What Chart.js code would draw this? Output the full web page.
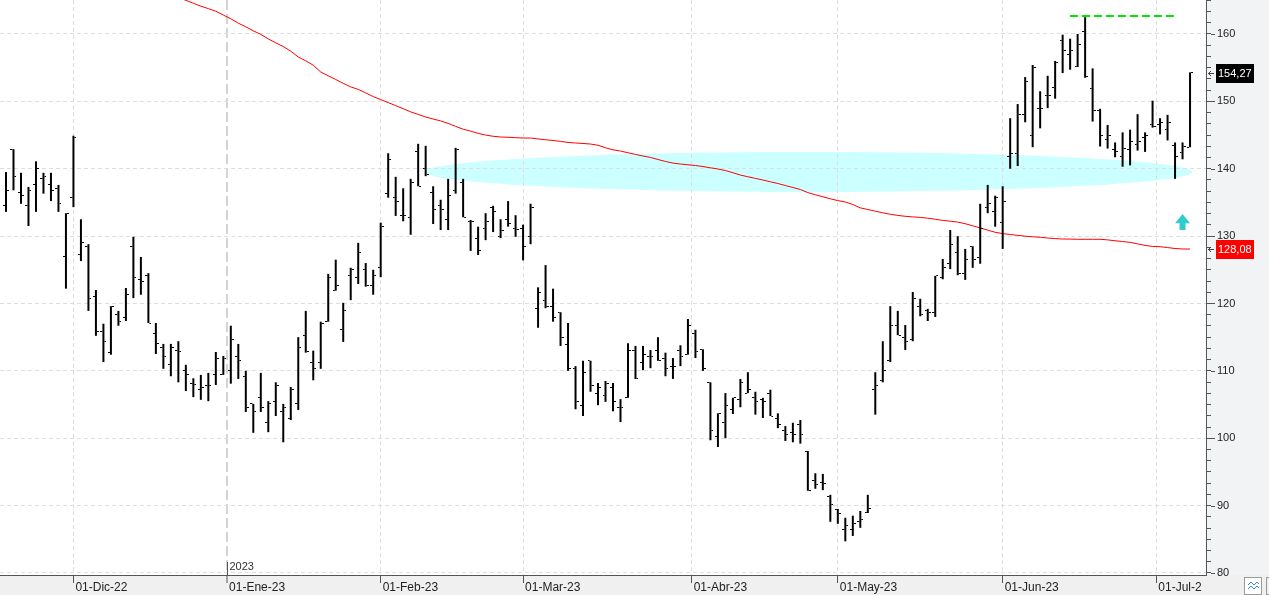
<!DOCTYPE html>
<html>
<head>
<meta charset="utf-8">
<script src="https://cdn.jsdelivr.net/npm/chart.js@4/dist/chart.umd.min.js"></script>
<style>
  html, body { margin: 0; padding: 0; background: #fff; }
</style>
</head>
<body>
<canvas id="chart" width="1269" height="595"></canvas>
<script>
// daily bars, one entry per session (17-Nov-22 .. 10-Jul-23)
const opens = [
  134.6, 142.9, 136.5, 134.6, 137.6, 138.5, 137.6, 137.0, 127.0, 135.7,
  127.3, 128.5, 121.1, 115.8, 112.7, 118.3, 117.9, 128.4, 123.6, 124.2,
  115.5, 113.4, 110.9, 113.0, 110.0, 108.1, 107.3, 107.9, 109.5, 109.5,
  110.1, 112.2, 109.1, 105.1, 106.1, 102.3, 105.4, 104.0, 103.0, 105.2,
  115.3, 111.2, 111.2, 117.4, 122.0, 116.1, 124.1, 123.9, 125.1, 122.7,
  125.3, 136.3, 135.7, 133.1, 132.7, 142.6, 140.1, 136.5, 134.6, 132.4,
  136.8, 138.0, 132.1, 129.7, 131.1, 134.3, 129.9, 132.5, 131.1, 131.1,
  130.0, 119.2, 120.4, 119.6, 118.6, 113.9, 110.3, 104.8, 111.5, 106.7,
  106.3, 107.5, 104.6, 106.0, 113.0, 111.2, 112.2, 113.0, 111.9, 110.6,
  113.0, 112.5, 115.5, 113.1, 108.3, 100.3, 102.4, 104.3, 105.8, 106.7,
  106.1, 105.7, 106.7, 102.9, 101.2, 100.8, 102.0, 98.1, 93.8, 93.4,
  91.4, 89.4, 86.5, 86.4, 87.6, 89.0, 107.3, 108.5, 111.5, 116.8,
  114.9, 114.6, 119.5, 119.0, 118.7, 123.9, 125.9, 127.6, 124.4, 128.4,
  126.8, 134.2, 133.7, 132.0, 141.8, 142.3, 148.0, 144.9, 148.9, 150.8,
  152.0, 159.0, 157.0, 155.2, 160.3, 151.9, 148.7, 144.3, 142.9, 141.8,
  142.9, 143.6, 144.7, 146.5, 146.6, 145.8, 143.5, 142.4, 143.2
];
const highs = [
  139.5, 142.9, 139.4, 137.3, 141.1, 139.4, 139.4, 137.6, 133.4, 144.9,
  132.5, 128.8, 122.0, 117.0, 119.6, 118.9, 122.3, 129.9, 126.9, 124.5,
  117.1, 114.0, 114.0, 114.4, 110.9, 108.9, 109.4, 109.7, 112.8, 112.2,
  116.7, 114.0, 110.0, 105.1, 109.7, 105.5, 108.3, 105.1, 107.6, 115.0,
  118.9, 113.0, 117.3, 124.4, 126.5, 120.1, 125.3, 129.0, 126.0, 125.0,
  132.0, 142.3, 138.8, 137.1, 138.5, 143.7, 143.4, 137.4, 135.4, 138.5,
  143.1, 138.5, 132.4, 131.4, 133.4, 134.5, 132.5, 135.2, 133.1, 131.7,
  134.8, 122.4, 125.7, 122.2, 118.7, 117.1, 110.7, 111.5, 111.5, 108.2,
  108.5, 108.2, 105.8, 114.1, 113.7, 113.7, 113.1, 115.0, 112.7, 111.9,
  113.8, 117.7, 116.1, 113.2, 108.3, 103.7, 106.7, 106.0, 108.8, 109.8,
  106.9, 106.0, 107.2, 103.7, 101.8, 102.3, 102.7, 98.1, 94.8, 94.7,
  91.6, 89.5, 88.2, 88.5, 89.2, 91.6, 109.8, 114.4, 119.6, 118.9,
  116.8, 121.7, 120.7, 119.2, 124.1, 126.6, 130.9, 130.0, 128.1, 128.5,
  134.8, 137.6, 136.0, 137.4, 147.5, 149.6, 153.6, 155.4, 151.5, 153.8,
  156.0, 159.9, 159.3, 160.0, 162.5, 154.9, 148.9, 146.5, 143.9, 145.4,
  145.8, 148.1, 145.4, 150.1, 147.5, 148.0, 143.9, 143.9, 154.3
];
const lows = [
  133.6, 136.8, 134.8, 131.5, 133.6, 136.3, 135.2, 133.6, 122.2, 134.3,
  126.3, 118.9, 115.2, 111.3, 112.4, 116.7, 117.4, 120.8, 121.3, 117.1,
  112.5, 110.3, 109.2, 108.3, 107.0, 106.1, 105.7, 105.5, 107.9, 109.4,
  108.1, 108.8, 103.9, 100.8, 103.9, 100.9, 103.3, 99.4, 102.7, 104.2,
  112.7, 108.6, 110.3, 117.3, 121.9, 114.3, 120.5, 122.9, 122.5, 121.3,
  123.9, 135.7, 133.0, 132.2, 130.2, 137.4, 138.9, 131.8, 130.9, 130.9,
  136.3, 132.8, 127.8, 127.2, 129.4, 130.6, 129.7, 131.4, 129.9, 126.4,
  128.8, 116.4, 119.3, 117.3, 113.7, 110.0, 104.3, 103.3, 106.9, 104.9,
  105.4, 104.0, 102.4, 106.0, 108.8, 110.1, 110.4, 111.5, 109.2, 108.8,
  110.7, 112.4, 111.9, 110.0, 99.7, 98.7, 100.0, 103.6, 104.6, 106.7,
  103.5, 103.0, 103.3, 101.5, 99.6, 99.4, 99.2, 92.2, 92.5, 92.3,
  87.6, 87.3, 84.7, 85.5, 86.7, 88.9, 103.5, 108.3, 111.3, 115.3,
  113.1, 114.4, 118.1, 117.4, 118.0, 123.6, 125.1, 124.2, 123.5, 125.3,
  125.9, 133.4, 131.4, 128.1, 140.0, 140.4, 146.9, 143.2, 146.0, 149.0,
  150.4, 154.2, 154.7, 155.1, 153.5, 147.0, 143.3, 143.0, 141.7, 140.3,
  140.5, 142.7, 142.5, 146.1, 145.1, 144.2, 138.5, 141.4, 143.2
];
const closes = [
  136.7, 138.8, 136.0, 136.7, 140.1, 138.8, 136.7, 134.8, 133.4, 144.6,
  129.0, 120.8, 115.9, 114.3, 119.5, 117.3, 121.3, 123.8, 123.2, 117.1,
  114.1, 112.2, 113.5, 112.8, 109.4, 108.0, 107.6, 107.9, 111.9, 111.8,
  114.6, 111.5, 104.5, 104.0, 104.6, 105.2, 107.9, 104.6, 107.3, 113.5,
  112.8, 110.4, 117.1, 123.8, 122.6, 119.0, 125.1, 127.5, 122.6, 124.2,
  131.5, 141.3, 135.1, 133.0, 138.0, 137.4, 139.1, 133.9, 133.9, 136.1,
  142.8, 132.8, 132.2, 127.9, 132.2, 133.6, 130.9, 131.8, 131.0, 128.4,
  134.2, 121.7, 119.6, 117.9, 114.9, 110.3, 105.4, 109.8, 107.9, 107.6,
  108.1, 105.5, 104.5, 113.0, 108.8, 112.5, 112.1, 111.6, 110.3, 110.7,
  112.2, 116.8, 112.8, 110.3, 101.2, 103.7, 104.9, 106.0, 108.2, 107.3,
  105.4, 105.5, 103.3, 102.0, 100.5, 100.6, 100.6, 92.2, 93.1, 93.3,
  90.1, 88.8, 87.0, 87.4, 87.9, 89.5, 107.9, 110.0, 116.8, 115.3,
  114.3, 120.8, 118.3, 118.7, 124.1, 125.4, 128.8, 124.4, 126.6, 126.6,
  131.1, 134.8, 135.8, 135.1, 142.3, 148.1, 152.9, 155.0, 149.0, 150.9,
  155.8, 157.6, 157.6, 158.5, 153.7, 148.7, 144.9, 144.9, 142.5, 143.0,
  144.1, 144.0, 145.0, 146.2, 146.8, 146.9, 141.8, 143.3, 154.27
];

// moving average, from session 22 on (earlier values are off the top)
const maStart = 22;
const ma = [
  166.0, 165.4,
  165.0, 164.57, 164.13, 163.77, 163.38, 162.81, 162.26, 161.60, 161.08, 160.47,
  159.94, 159.27, 158.68, 158.14, 157.45, 156.59, 156.02, 155.37, 154.36, 153.80,
  153.25, 152.68, 152.15, 151.78, 151.26, 150.71, 150.26, 149.82, 149.37, 148.91,
  148.44, 148.07, 147.68, 147.38, 147.10, 146.73, 146.29, 145.87, 145.58, 145.25,
  145.00, 144.82, 144.71, 144.67, 144.61, 144.56, 144.56, 144.42, 144.31, 144.19,
  144.06, 143.90, 143.82, 143.75, 143.67, 143.48, 143.11, 142.81, 142.63, 142.37,
  142.13, 141.89, 141.68, 141.37, 141.08, 140.84, 140.70, 140.59, 140.48, 140.33,
  140.14, 139.96, 139.73, 139.41, 139.06, 138.81, 138.57, 138.33, 138.06, 137.81,
  137.51, 137.22, 136.92, 136.46, 136.13, 135.84, 135.54, 135.27, 135.07, 134.69,
  134.19, 133.95, 133.70, 133.46, 133.24, 133.07, 132.94, 132.85, 132.78, 132.66,
  132.50, 132.33, 132.22, 132.08, 131.84, 131.53, 131.22, 130.88, 130.57, 130.37,
  130.24, 130.11, 129.99, 129.90, 129.83, 129.72, 129.63, 129.57, 129.56, 129.53,
  129.53, 129.53, 129.53, 129.44, 129.31, 129.20, 129.07, 128.85, 128.62, 128.47,
  128.43, 128.30, 128.16, 128.09, 128.08
];

// month ticks (session index; .5 = month starts on a weekend)
const monthPos = [9, 29.5, 50, 69, 91.5, 111, 133, 153.5];
const monthLabels = ['01-Dic-22', '01-Ene-23', '01-Feb-23', '01-Mar-23', '01-Abr-23', '01-May-23', '01-Jun-23', '01-Jul-2'];
const yearTick = 1, yearLabel = '2023';

const lastPrice = 154.27, lastMa = 128.08;
const topLine = { from: 141.97, to: 156.0, value: 162.67 };
const zone = { from: 55.9, to: 158.3, low: 136.55, high: 142.5 };
const signal = { at: 157, top: 133.3, bottom: 130.9 };

const FONT = "'Liberation Sans', Arial, sans-serif";
Chart.defaults.font.family = FONT;

function isMajor(v) {
  return Math.abs(v / 10 - Math.round(v / 10)) < 1e-6;
}

// open tick on the left, close tick on the right
function tickImage(side) {
  const c = document.createElement('canvas');
  c.width = 6; c.height = 1;
  const g = c.getContext('2d');
  g.fillStyle = '#000';
  g.fillRect(side == 'left' ? 0 : 4, 0, 2, 1);
  return c;
}

function priceTag(ctx, yPix, left, text, bg) {
  const py = Math.round(yPix);
  ctx.fillStyle = bg;
  ctx.fillRect(left + 10, py - 9, 38, 19);
  ctx.fillStyle = '#fff';
  ctx.font = '11px ' + FONT;
  ctx.textAlign = 'left';
  ctx.textBaseline = 'middle';
  ctx.fillText(text, left + 12, py + 1);
  ctx.strokeStyle = '#444';
  ctx.lineWidth = 1;
  ctx.beginPath();
  ctx.moveTo(left + 2, py + 0.5); ctx.lineTo(left + 8, py + 0.5);
  ctx.moveTo(left + 5, py - 2); ctx.lineTo(left + 2.5, py + 0.5); ctx.lineTo(left + 5, py + 3);
  ctx.stroke();
}

const extras = {
  id: 'extras',
  beforeDraw(chart) {
    const { ctx, chartArea: a, scales: { x, y } } = chart;
    ctx.save();
    ctx.fillStyle = '#fff';
    ctx.fillRect(0, 0, chart.width, chart.height);
    ctx.fillStyle = '#f2f3f5';
    ctx.fillRect(a.right, 0, chart.width - a.right, a.bottom);
    ctx.fillStyle = '#f0f0f0';
    ctx.fillRect(0, a.bottom, chart.width, chart.height - a.bottom);

    // support zone
    const x1 = x.getPixelForValue(zone.from), x2 = x.getPixelForValue(zone.to);
    const y1 = y.getPixelForValue(zone.high), y2 = y.getPixelForValue(zone.low);
    ctx.fillStyle = '#ccffff';
    ctx.beginPath();
    ctx.ellipse((x1 + x2) / 2, (y1 + y2) / 2, (x2 - x1) / 2, (y2 - y1) / 2, 0, 0, Math.PI * 2);
    ctx.fill();
    ctx.restore();
  },
  afterDraw(chart) {
    const { ctx, chartArea: a, scales: { x, y } } = chart;
    ctx.save();

    // longer marks on the labelled prices
    ctx.strokeStyle = '#555';
    ctx.lineWidth = 1;
    ctx.beginPath();
    for (const t of y.ticks) {
      if (!isMajor(t.value)) continue;
      const ty = Math.round(y.getPixelForValue(t.value)) + 0.5;
      ctx.moveTo(a.right + 5, ty);
      ctx.lineTo(a.right + 9, ty);
    }
    ctx.stroke();

    // resistance
    const gy = Math.round(y.getPixelForValue(topLine.value));
    ctx.strokeStyle = '#00e600';
    ctx.lineWidth = 2;
    ctx.setLineDash([8, 4]);
    ctx.beginPath();
    ctx.moveTo(x.getPixelForValue(topLine.from), gy);
    ctx.lineTo(x.getPixelForValue(topLine.to), gy);
    ctx.stroke();
    ctx.setLineDash([]);

    // buy arrow
    const cx = x.getPixelForValue(signal.at);
    const ty = y.getPixelForValue(signal.top), by = y.getPixelForValue(signal.bottom);
    const hb = ty + (by - ty) * 0.58;
    ctx.fillStyle = '#33cccc';
    ctx.beginPath();
    ctx.moveTo(cx, ty);
    ctx.lineTo(cx + 7.5, hb);
    ctx.lineTo(cx + 3, hb);
    ctx.lineTo(cx + 3, by);
    ctx.lineTo(cx - 3, by);
    ctx.lineTo(cx - 3, hb);
    ctx.lineTo(cx - 7.5, hb);
    ctx.closePath();
    ctx.fill();

    // year marker
    const jx = Math.round(x.getPixelForValue(monthPos[yearTick])) + 0.5;
    ctx.strokeStyle = '#555';
    ctx.lineWidth = 1;
    ctx.beginPath();
    ctx.moveTo(jx, a.bottom - 13);
    ctx.lineTo(jx, a.bottom);
    ctx.stroke();
    ctx.fillStyle = '#333';
    ctx.font = '11px ' + FONT;
    ctx.textAlign = 'left';
    ctx.textBaseline = 'middle';
    ctx.fillText(yearLabel, jx + 2, a.bottom - 8);

    // last values
    priceTag(ctx, y.getPixelForValue(lastPrice), a.right, lastPrice.toFixed(2).replace('.', ','), '#000');
    priceTag(ctx, y.getPixelForValue(lastMa), a.right, lastMa.toFixed(2).replace('.', ','), '#ff0000');

    // corner buttons
    ctx.fillStyle = '#fff';
    ctx.strokeStyle = '#9a9a9a';
    ctx.fillRect(1244.5, 577.5, 17, 17);
    ctx.strokeRect(1244.5, 577.5, 17, 17);
    ctx.strokeRect(1266.5, 577.5, 10, 17);
    ctx.strokeStyle = '#3b8ad9';
    ctx.beginPath();
    ctx.moveTo(1248, 585); ctx.lineTo(1251, 582); ctx.lineTo(1254, 585); ctx.lineTo(1257, 582); ctx.lineTo(1259, 584);
    ctx.moveTo(1248, 589); ctx.lineTo(1251, 586); ctx.lineTo(1254, 589); ctx.lineTo(1257, 586); ctx.lineTo(1259, 588);
    ctx.stroke();
    ctx.restore();
  }
};

const idx = highs.map((_, i) => i);

new Chart(document.getElementById('chart'), {
  type: 'bar',
  data: {
    datasets: [
      {
        type: 'line',
        data: ma.map((v, k) => ({ x: maStart + k, y: v })),
        borderColor: '#ff0000',
        borderWidth: 1,
        pointRadius: 0,
        tension: 0,
        order: 3
      },
      {
        type: 'bar',
        data: idx.map(i => ({ x: i, y: [lows[i], highs[i]] })),
        backgroundColor: '#000',
        barThickness: 2,
        inflateAmount: 0,
        order: 2
      },
      {
        type: 'scatter',
        data: idx.map(i => ({ x: i, y: opens[i] })),
        pointStyle: tickImage('left'),
        pointRadius: 3,
        order: 1
      },
      {
        type: 'scatter',
        data: idx.map(i => ({ x: i, y: closes[i] })),
        pointStyle: tickImage('right'),
        pointRadius: 3,
        order: 1
      }
    ]
  },
  options: {
    responsive: false,
    animation: false,
    devicePixelRatio: 1,
    layout: { padding: 0, autoPadding: false },
    plugins: { legend: { display: false }, tooltip: { enabled: false } },
    scales: {
      x: {
        type: 'linear',
        position: 'bottom',
        min: -0.8,
        max: 160.13,
        offset: false,
        afterBuildTicks: s => { s.ticks = monthPos.map(v => ({ value: v })); },
        afterFit: s => { s.height = 20; s.paddingLeft = 0; s.paddingRight = 0; s.paddingTop = 0; s.paddingBottom = 0; },
        ticks: {
          autoSkip: false,
          maxRotation: 0,
          align: 'start',
          labelOffset: 2,
          padding: -3,
          color: '#222',
          font: { size: 12 },
          callback: (v, i) => monthLabels[i]
        },
        grid: {
          offset: false,
          color: c => c.index === yearTick ? '#d4d4d4' : '#dedede',
          lineWidth: c => c.index === yearTick ? 2 : 1,
          tickColor: '#555',
          tickWidth: 1,
          tickLength: 8
        },
        border: { color: '#555', width: 1, dash: c => c.index === yearTick ? [10, 4] : [4, 3] }
      },
      y: {
        type: 'linear',
        position: 'right',
        min: 79.70,
        max: 165.046,
        beginAtZero: false,
        afterBuildTicks: s => {
          const t = [];
          for (let k = 0; k <= 51; k++) t.push({ value: 80 + k * 10 / 6 });
          s.ticks = t;
        },
        afterFit: s => { s.width = 63; s.paddingTop = 0; s.paddingBottom = 0; s.paddingLeft = 0; s.paddingRight = 0; },
        ticks: {
          autoSkip: false,
          padding: 6,
          color: '#222',
          font: { size: 11 },
          callback: v => isMajor(v) ? String(Math.round(v)) : ''
        },
        grid: {
          color: c => c.tick && isMajor(c.tick.value) ? '#dedede' : 'rgba(0,0,0,0)',
          tickColor: '#555',
          tickWidth: 1,
          tickLength: 5
        },
        border: { color: '#555', width: 1, dash: [4, 3] }
      }
    }
  },
  plugins: [extras]
});
</script>
</body>
</html>
